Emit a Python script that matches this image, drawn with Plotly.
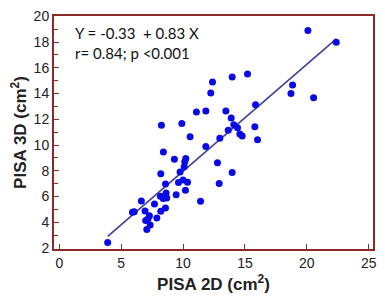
import plotly.graph_objects as go

# PISA 2D vs PISA 3D (cm²)
pisa_2d = [3.91, 5.91, 6.05, 6.63, 6.93, 6.98, 7.07, 7.17, 7.28, 7.34, 7.69, 7.88,
           8.20, 8.25, 8.20, 8.17, 8.41, 8.39, 8.58, 8.58, 8.63, 8.68, 9.30, 9.44,
           9.63, 9.76, 9.90, 10.00, 10.09, 10.14, 10.22, 10.19, 10.36, 10.57, 11.08,
           11.41, 11.84, 11.84, 12.24, 12.38, 12.78, 12.92, 12.97, 13.46, 13.65,
           13.89, 13.97, 13.97, 14.10, 14.40, 14.59, 14.78, 15.21, 15.80, 15.86,
           16.02, 18.72, 18.85, 20.09, 20.55, 22.38]
pisa_3d = [2.44, 4.78, 4.82, 5.66, 4.88, 4.14, 3.44, 4.27, 4.52, 3.80, 5.43, 4.34,
           7.77, 11.53, 4.86, 6.02, 9.47, 5.86, 6.97, 5.12, 6.27, 5.89, 8.90, 6.15,
           7.10, 7.90, 11.68, 7.28, 8.31, 8.70, 8.95, 6.50, 7.12, 10.65, 12.56,
           5.63, 9.88, 12.64, 14.05, 14.90, 8.62, 7.02, 10.52, 12.64, 11.14,
           12.10, 15.29, 7.87, 11.58, 11.35, 10.86, 10.70, 15.52, 11.43, 13.13,
           10.42, 14.00, 14.67, 18.89, 13.67, 17.99]

intercept = -0.33
slope = 0.83
fit_x = [min(pisa_2d), max(pisa_2d)]
fit_y = [intercept + slope * v for v in fit_x]

x_ticks = [0, 5, 10, 15, 20, 25]
y_ticks = [2, 4, 6, 8, 10, 12, 14, 16, 18, 20]

border = "#8b2a2a"

fig = go.Figure()
fig.add_trace(go.Scatter(x=fit_x, y=fit_y, mode="lines",
                         line=dict(color="#3f3f9a", width=1.6), hoverinfo="skip"))
fig.add_trace(go.Scatter(x=pisa_2d, y=pisa_3d, mode="markers",
                         marker=dict(color="#0a0ae6", size=7, line=dict(width=0))))

fig.add_annotation(x=0.06, y=0.925, xref="paper", yref="paper", xanchor="left", yanchor="middle",
                   text="Y = -0.33  + 0.83 X", showarrow=False,
                   font=dict(family="Lato, Open Sans, sans-serif", size=15, color="#111"))
fig.add_annotation(x=0.06, y=0.84, xref="paper", yref="paper", xanchor="left", yanchor="middle",
                   text="r= 0.84; p <0.001", showarrow=False,
                   font=dict(family="Lato, Open Sans, sans-serif", size=15, color="#111"))

fig.update_layout(
    width=385, height=304,
    margin=dict(l=54, r=12, t=16, b=55),
    paper_bgcolor="white", plot_bgcolor="white",
    showlegend=False,
    font=dict(family="Liberation Sans, Arial, sans-serif", size=14, color="#222"),
    xaxis=dict(range=[-0.43, 25.35], tickvals=x_ticks, ticks="inside", ticklen=5,
               tickcolor=border, tickwidth=1, showgrid=False, zeroline=False,
               showline=True, mirror=True, linecolor=border, linewidth=2,
               tickfont=dict(size=14), automargin=False,
               title=dict(text="<b>PISA 2D (cm<sup>2</sup>)</b>", font=dict(size=17), standoff=8)),
    yaxis=dict(range=[1.93, 20.02], tickvals=y_ticks, ticks="inside", ticklen=5,
               tickcolor=border, tickwidth=1, showgrid=False, zeroline=False,
               showline=True, mirror=True, linecolor=border, linewidth=2,
               tickfont=dict(size=14), automargin=False,
               minor=dict(dtick=1, ticks="inside", ticklen=4, tickcolor=border, showgrid=False),
               title=dict(text="<b>PISA 3D (cm<sup>2</sup>)</b>", font=dict(size=17), standoff=3)),
)

fig.write_html("out.html", config={"displayModeBar": False},
               post_script="document.body.style.margin='0';")
